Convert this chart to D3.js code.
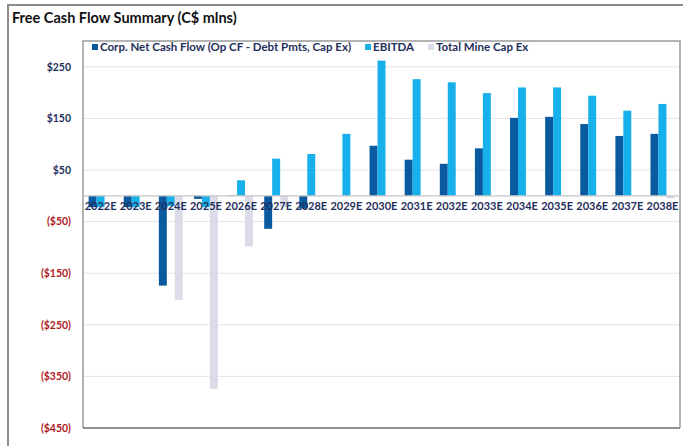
<!DOCTYPE html>
<html>
<head>
<meta charset="utf-8">
<script src="https://cdn.jsdelivr.net/npm/d3@7"></script>
<style>
  html, body { margin: 0; padding: 0; background: #fff; }
  svg { display: block; font-family: Lato, "Open Sans", sans-serif; }
</style>
</head>
<body>
<script>
// Fiscal years on the category axis
const years = ["2022E","2023E","2024E","2025E","2026E","2027E","2028E","2029E","2030E",
               "2031E","2032E","2033E","2034E","2035E","2036E","2037E","2038E"];

// C$ millions per year
const netCashFlow = [-22, -22, -174, -6, 1, -64, -25, 0, 97, 70, 62, 92, 151, 153, 139, 116, 120];
const ebitda      = [-22, -22, -20, -22, 30, 72, 81, 120, 262, 226, 220, 199, 210, 210, 194, 165, 178];
const mineCapEx   = [0, 0, -202, -374, -98, -22, 0, 0, 0, 0, 0, 0, 0, 0, 0, 0, -5];

const seriesNames = ["Corp. Net Cash Flow (Op CF - Debt Pmts, Cap Ex)", "EBITDA", "Total Mine Cap Ex"];
const seriesColors = ["#0a5aa0", "#17b0ea", "#dcdce8"];
const seriesValues = [netCashFlow, ebitda, mineCapEx];

const yTicks = [-450, -350, -250, -150, -50, 50, 150, 250];
const yDomain = [-450, 300];

const W = 683, H = 446;
const plot = { left: 83, right: 680, top: 41, bottom: 428 };

const svg = d3.select("body").append("svg").attr("width", W).attr("height", H);

// outer frame
svg.append("path")
  .attr("d", `M8,${H} L8,5 L${W},5`)
  .attr("fill", "none").attr("stroke", "#8c8c8c").attr("stroke-width", 2);

// title
svg.append("text")
  .attr("x", 12).attr("y", 23)
  .attr("font-size", 14.5).attr("font-weight", 700).attr("fill", "#111")
  .text("Free Cash Flow Summary (C$ mlns)");

const x = d3.scaleBand(years, [plot.left, plot.right]).paddingInner(0.32).paddingOuter(0.16);
const xs = d3.scaleBand(d3.range(3), [0, x.bandwidth()]);
const y = d3.scaleLinear(yDomain, [plot.bottom, plot.top]);

// gridlines
svg.append("g").selectAll("line").data(yTicks.filter(t => t > yDomain[0])).join("line")
  .attr("x1", plot.left).attr("x2", plot.right)
  .attr("y1", d => y(d)).attr("y2", d => y(d))
  .attr("stroke", "#e4e4e4").attr("stroke-width", 1);

// plot area frame
svg.append("path")
  .attr("d", `M${plot.left},${plot.bottom} L${plot.left},${plot.top} L${plot.right},${plot.top} L${plot.right},${plot.bottom}`)
  .attr("fill", "none").attr("stroke", "#9a9a9a").attr("stroke-width", 1.5);
svg.append("line")
  .attr("x1", plot.left).attr("x2", plot.right)
  .attr("y1", plot.bottom).attr("y2", plot.bottom)
  .attr("stroke", "#6e6e6e").attr("stroke-width", 1.5);

// bars
const rows = years.map((yr, i) => ({ yr, vals: seriesValues.map(s => s[i]) }));
svg.append("g").selectAll("g").data(rows).join("g")
  .attr("transform", d => `translate(${x(d.yr)},0)`)
  .selectAll("rect").data(d => d.vals.map((v, k) => ({ v, k }))).join("rect")
  .attr("x", d => xs(d.k))
  .attr("width", xs.bandwidth())
  .attr("y", d => y(Math.max(0, d.v)))
  .attr("height", d => Math.abs(y(d.v) - y(0)))
  .attr("fill", d => seriesColors[d.k]);

// zero axis line
svg.append("line")
  .attr("x1", plot.left).attr("x2", plot.right)
  .attr("y1", y(0)).attr("y2", y(0))
  .attr("stroke", "#c6c6c6").attr("stroke-width", 1.2);

// y axis labels
const yAxis = d3.axisLeft(y).tickValues(yTicks).tickSize(0).tickPadding(0)
  .tickFormat(d => d < 0 ? `($${Math.abs(d)})` : `$${d}`);
const gy = svg.append("g").attr("transform", "translate(71,0)").call(yAxis);
gy.select(".domain").remove();
gy.selectAll("text")
  .attr("font-family", "Lato, sans-serif").attr("font-size", 10.5).attr("font-weight", 700)
  .attr("fill", d => d < 0 ? "#b01a22" : "#1f2f5c");

// x axis labels, drawn over the bars just under the zero line
const xAxis = d3.axisBottom(x).tickSize(0).tickPadding(0);
const gx = svg.append("g").attr("transform", `translate(0,${y(0) + 5})`).call(xAxis);
gx.select(".domain").remove();
gx.selectAll("text")
  .attr("dy", "0.85em")
  .attr("font-family", "Lato, sans-serif").attr("font-size", 11).attr("font-weight", 700)
  .attr("fill", "#1f2f5c");

// legend
const legend = svg.append("g").attr("transform", "translate(92,47)");
let lx = 0;
seriesNames.forEach((name, k) => {
  const g = legend.append("g").attr("transform", `translate(${lx},0)`);
  g.append("rect").attr("x", 0).attr("y", -3).attr("width", 6).attr("height", 6).attr("fill", seriesColors[k]);
  const t = g.append("text").attr("x", 8).attr("y", 0).attr("dy", "0.35em")
    .attr("font-size", 11.5).attr("font-weight", 700).attr("fill", "#1f2f5c")
    .text(name);
  lx += 8 + t.node().getComputedTextLength() + 14;
});
</script>
</body>
</html>
